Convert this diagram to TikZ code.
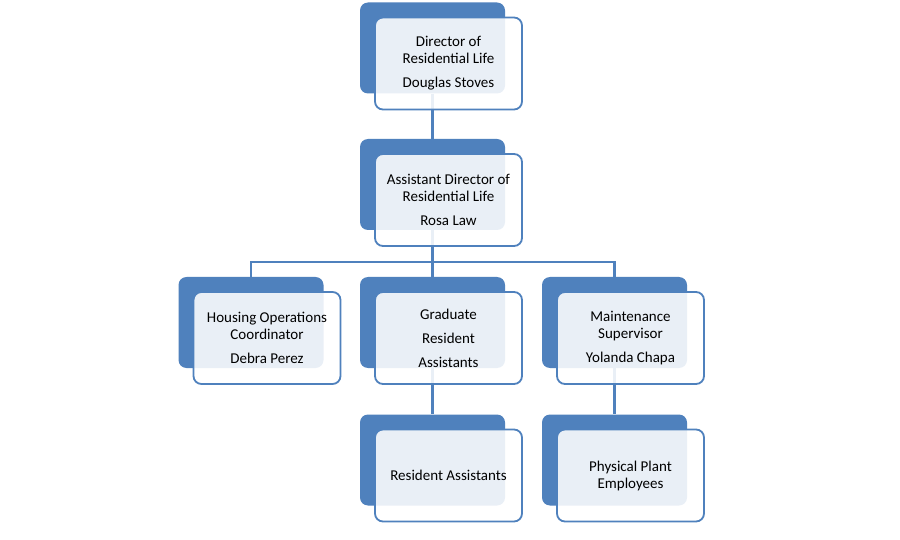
\documentclass[tikz,border=0pt]{standalone}
\usepackage{fontspec}
\setmainfont{Carlito}
\usetikzlibrary{positioning}
\definecolor{OrgBlue}{RGB}{79, 129, 189}
\pgfdeclarelayer{back}
\pgfsetlayers{back,main}

\begin{document}
\begin{tikzpicture}[
        x = 1pt, y = -1pt,
        backcard/.style = {
            fill = OrgBlue,
            rounded corners = 8pt,
            minimum width = 145pt,
            minimum height = 91pt,
            inner sep = 0pt
        },
        frontcard/.style = {
            draw = OrgBlue,
            line width = 1.8pt,
            fill = white,
            fill opacity = 0.88,
            text opacity = 1,
            rounded corners = 8pt,
            minimum width = 147pt,
            minimum height = 92pt,
            inner sep = 0pt,
            align = center,
            font = \fontsize{15}{17}\selectfont,
            xshift = 16pt,
            yshift = -15.5pt
        },
        link/.style = {
            OrgBlue,
            line width = 2.2pt
        }
    ]
        % top of the chart
        \node[backcard] (dirB) at (432.5, 48) {};
        \node[frontcard] (dir) at (dirB) {Director of\\Residential Life\\[7pt]Douglas Stoves};

        \node[backcard] (asstB) at (432.5, 184.5) {};
        \node[frontcard] (asst) at (asstB) {Assistant Director of\\Residential Life\\[7pt]Rosa Law};

        % second row
        \node[backcard] (housB) at (251, 322.5) {};
        \node[frontcard] (hous) at (housB) {Housing Operations\\Coordinator\\[7pt]Debra Perez};

        \node[backcard] (gradB) at (432.5, 322.5) {};
        \node[frontcard] (grad) at (gradB) {Graduate\\[7pt]Resident\\[7pt]Assistants};

        \node[backcard] (maintB) at (614.5, 322.5) {};
        \node[frontcard] (maint) at (maintB) {Maintenance\\Supervisor\\[7pt]Yolanda Chapa};

        % bottom row
        \node[backcard] (raB) at (432.5, 460) {};
        \node[frontcard] (ra) at (raB) {Resident Assistants};

        \node[backcard] (ppB) at (614.5, 460) {};
        \node[frontcard] (pp) at (ppB) {Physical Plant\\Employees};

        \begin{pgfonlayer}{back}
            \fill[white] (0, 0) rectangle (900, 540);
            \coordinate (bus) at (432.5, 262);
            \draw[link] (dirB) -- (asstB);
            \draw[link] (asstB) -- (bus);
            \draw[link] (housB) |- (bus) -| (maintB);
            \draw[link] (bus) -- (gradB);
            \draw[link] (gradB) -- (raB);
            \draw[link] (maintB) -- (ppB);
        \end{pgfonlayer}
    \end{tikzpicture}
\end{document}
